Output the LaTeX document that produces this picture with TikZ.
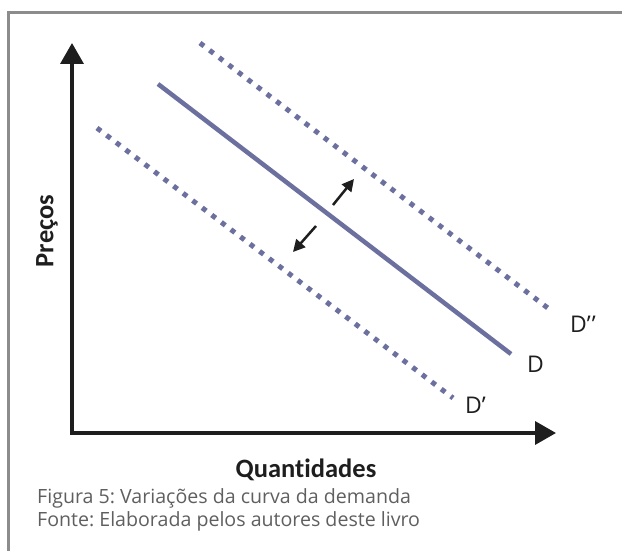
\documentclass[tikz,border=0pt]{standalone}
\usepackage{fontspec}
\setmainfont{Open Sans}
\newfontfamily\axfont[Ligatures=NoCommon]{Carlito}
\usetikzlibrary{arrows.meta}
\definecolor{curvecol}{RGB}{108,112,158}
\definecolor{framecol}{RGB}{140,140,140}
\definecolor{capcol}{RGB}{95,95,95}
\definecolor{inkcol}{RGB}{30,30,30}
\frenchspacing
\begin{document}
\begin{tikzpicture}[x=1pt,y=-1pt,
  axis/.style={line width=3.6pt, draw=inkcol, {Triangle[length=21pt,width=23pt]}-{Triangle[length=21pt,width=23pt]}},
  demand/.style={line width=4.5pt, draw=curvecol},
  shifted/.style={line width=5pt, draw=curvecol, dash pattern=on 5pt off 7pt},
  shiftarrow/.style={line width=2.5pt, draw=inkcol, -{Triangle[length=12pt,width=12pt]}},
  lab/.style={font=\fontsize{23}{23}\selectfont, text=inkcol, inner sep=0pt, anchor=base west},
  axlab/.style={font=\axfont\bfseries\fontsize{26.5}{26.5}\selectfont, text=inkcol, inner sep=0pt},
  captxt/.style={font=\fontsize{19.6}{19.6}\selectfont, text=capcol, inner sep=0pt, anchor=base west}]
\useasboundingbox (0,0) rectangle (622,551);
\draw[framecol, line width=3pt] (8,551) -- (8,13) -- (622,13);
% axes
\coordinate (Ytip) at (72,43);
\coordinate (O) at (72,433);
\coordinate (Xtip) at (556,433);
\draw[axis] (Ytip) -- (O) -- (Xtip);
% curves
\coordinate (Dpp1) at (200,43);  \coordinate (Dpp2) at (553,312);
\coordinate (D1) at (158,84);    \coordinate (D2) at (511,354);
\coordinate (Dp1) at (97,128);   \coordinate (Dp2) at (453,398);
\draw[shifted] (Dpp1) -- (Dpp2);
\draw[demand] (D1) -- (D2);
\draw[shifted] (Dp1) -- (Dp2);
% labels
\node[lab] (lDpp) at (570,332) {D’\kern1pt’};
\node[lab] (lD) at (527,372) {D};
\node[lab] (lDp) at (465,413) {D’};
% shift arrows
\coordinate (ua1) at (333,205); \coordinate (ua2) at (354,179);
\coordinate (da1) at (316,226); \coordinate (da2) at (293,252);
\draw[shiftarrow] (ua1) -- (ua2);
\draw[shiftarrow] (da1) -- (da2);
% axis labels
\node[axlab, anchor=base] (qt) at (306,477) {Quantidades};
\node[axlab, rotate=90] (pr) at (47,231) {Preços};
% caption
\node[captxt] (cap1) at (37,503) {Figura 5: Variações da curva da demanda};
\node[captxt] (cap2) at (37,526) {Fonte: Elaborada pelos autores deste livro};
\end{tikzpicture}
\end{document}
